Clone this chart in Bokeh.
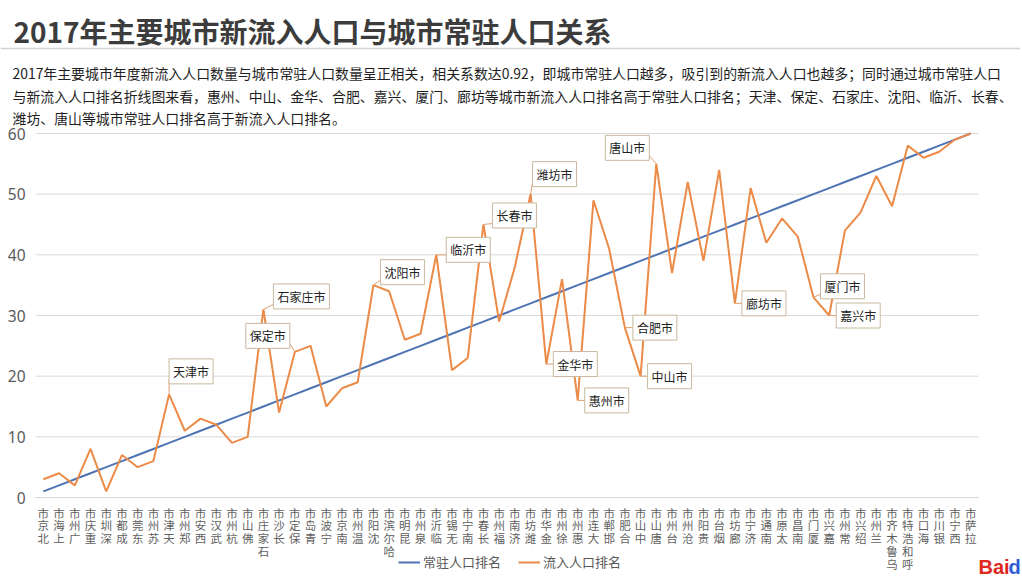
from bokeh.plotting import figure
from bokeh.models import Range1d, FixedTicker, Label, Legend, LegendItem
from bokeh.core.properties import value
from bokeh.embed import file_html
from bokeh.resources import INLINE

# ---------------- data ----------------
title_text = "2017年主要城市新流入人口与城市常驻人口关系"
para_lines = [
    "2017年主要城市年度新流入人口数量与城市常驻人口数量呈正相关，相关系数达0.92，即城市常驻人口越多，吸引到的新流入人口也越多；同时通过城市常驻人口",
    "与新流入人口排名折线图来看，惠州、中山、金华、合肥、嘉兴、厦门、廊坊等城市新流入人口排名高于常驻人口排名；天津、保定、石家庄、沈阳、临沂、长春、",
    "潍坊、唐山等城市常驻人口排名高于新流入人口排名。",
]
cities = ["北京市", "上海市", "广州市", "重庆市", "深圳市", "成都市", "东莞市", "苏州市", "天津市", "郑州市",
          "西安市", "武汉市", "杭州市", "佛山市", "石家庄市", "长沙市", "保定市", "青岛市", "宁波市", "南京市",
          "温州市", "沈阳市", "哈尔滨市", "昆明市", "泉州市", "临沂市", "无锡市", "南宁市", "长春市", "福州市",
          "济南市", "潍坊市", "金华市", "徐州市", "惠州市", "大连市", "邯郸市", "合肥市", "中山市", "唐山市",
          "台州市", "沧州市", "贵阳市", "烟台市", "廊坊市", "济宁市", "南通市", "太原市", "南昌市", "厦门市",
          "嘉兴市", "常州市", "绍兴市", "兰州市", "乌鲁木齐市", "呼和浩特市", "海口市", "银川市", "西宁市", "拉萨市"]
resident_rank = [1, 2, 3, 4, 5, 6, 7, 8, 9, 10, 11, 12, 13, 14, 15, 16, 17, 18, 19, 20,
                 21, 22, 23, 24, 25, 26, 27, 28, 29, 30, 31, 32, 33, 34, 35, 36, 37, 38, 39, 40,
                 41, 42, 43, 44, 45, 46, 47, 48, 49, 50, 51, 52, 53, 54, 55, 56, 57, 58, 59, 60]
inflow_rank = [3, 4, 2, 8, 1, 7, 5, 6, 17, 11, 13, 12, 9, 10, 31, 14, 24, 25, 15, 18,
               19, 35, 34, 26, 27, 40, 21, 23, 45, 29, 38, 50, 22, 36, 16, 49, 41, 28, 20, 55,
               37, 52, 39, 54, 32, 51, 42, 46, 43, 33, 30, 44, 47, 53, 48, 58, 56, 57, 59, 60]
y_ticks = [0, 10, 20, 30, 40, 50, 60]
legend_labels = ["常驻人口排名", "流入人口排名"]
# callouts: city name, box offset (px right, px up), leader side
callouts = [("天津市", 0, 23, "L"), ("石家庄市", 10, 13, "L"), ("保定市", -49, 16, "R"),
            ("沈阳市", 7, 13, "L"), ("临沂市", 10, 5, "L"), ("长春市", 9, 9, "L"),
            ("潍坊市", 2, 20, "L"), ("唐山市", -51, 16, "R"), ("金华市", 7, 0, "L"),
            ("惠州市", 7, 0, "L"), ("合肥市", 8, 0, "L"), ("中山市", 7, 0, "L"),
            ("廊坊市", 7, 0, "L"), ("厦门市", 7, 11, "L"), ("嘉兴市", 7, 0, "L")]

CJK = "Noto Sans CJK SC"
BLUE = "#4E74B4"
ORANGE = "#EB8B47"

# ---------------- layout (page pixels) ----------------
ML = 0                 # page origin of the canvas
W, H = 1020, 578       # canvas
FL, FR = 35, 978       # x = 0.5 .. 60.5
FT, FB = 133, 497      # y = 60 .. 0
n = len(cities)
pxx = (FR - FL) / n
pxy = (FB - FT) / 60.0
x0 = 0.5 - (FL - ML) / pxx
x1 = n + 0.5 + (ML + W - FR) / pxx
y1 = 60 + (FT - ML) / pxy
y0 = -(ML + H - FB) / pxy


def X(px):
    return x0 + (px - ML) / pxx


def Y(py):
    return y1 - (py - ML) / pxy


p = figure(width=W, height=H, x_range=Range1d(x0, x1), y_range=Range1d(y0, y1),
           toolbar_location=None, output_backend="svg", min_border=0,
           min_border_left=0, min_border_right=0, min_border_top=0, min_border_bottom=0,
           outline_line_color=None)

# header
p.text(x=[X(13)], y=[Y(30)], text=[title_text], text_font=value(CJK), text_font_size=value("28px"),
       text_font_style="bold", text_color="#3c3c3c", text_baseline="middle", text_align="left")
p.segment(x0=[X(0)], y0=[Y(48)], x1=[X(W)], y1=[Y(48)], line_color="#d4d4d4", line_width=1.5)
p.text(x=[X(12)] * 3, y=[Y(72), Y(95), Y(117)], text=para_lines, text_font=value(CJK),
       text_font_size=value("13.9px"), text_color="#1e1e1e", text_baseline="middle", text_align="left")

# grid lines (horizontal, only across the plotting band)
xs = list(range(1, n + 1))
p.xgrid.grid_line_color = None
p.ygrid.grid_line_color = None
p.segment(x0=[0.5] * len(y_ticks), y0=y_ticks, x1=[n + 0.5] * len(y_ticks), y1=y_ticks,
          line_color="#d9d9d9", line_width=1)

# axes
p.yaxis.fixed_location = 0.5
p.yaxis.bounds = (0, 60)
p.yaxis.ticker = FixedTicker(ticks=y_ticks)
p.yaxis.axis_line_color = None
p.yaxis.major_tick_line_color = None
p.yaxis.minor_tick_line_color = None
p.yaxis.major_label_standoff = 4
p.yaxis.major_label_text_font = "Noto Sans"
p.yaxis.major_label_text_font_size = "15.5px"
p.yaxis.major_label_text_color = "#595959"

p.xaxis.fixed_location = 0
p.xaxis.bounds = (0.5, n + 0.5)
p.xaxis.ticker = FixedTicker(ticks=xs)
p.xaxis.major_label_overrides = {i: "\n".join(reversed(c)) for i, c in zip(xs, cities)}
p.xaxis.axis_line_color = "#d9d9d9"
p.xaxis.major_tick_line_color = None
p.xaxis.minor_tick_line_color = None
p.xaxis.major_label_standoff = 1
p.xaxis.major_label_text_font = CJK
p.xaxis.major_label_text_font_size = "11.5px"
p.xaxis.major_label_text_line_height = 0.81
p.xaxis.major_label_text_color = "#5f5f5f"

r_blue = p.line(xs, resident_rank, line_color=BLUE, line_width=2)
r_orange = p.line(xs, inflow_rank, line_color=ORANGE, line_width=2)

# callouts
idx = {c: i for i, c in enumerate(cities)}
lx0, ly0, lx1, ly1 = [], [], [], []
for name, dx, dy, side in callouts:
    i = idx[name]
    x, y = xs[i], inflow_rank[i]
    bw = 12 * len(name) + 8
    p.add_layout(Label(x=x, y=y, x_offset=dx, y_offset=dy, text=name, text_font=CJK,
                       text_font_size="12px", text_color="#222222", text_baseline="middle",
                       text_align="left", background_fill_color="white",
                       border_line_color="#c8b89e", border_line_width=1, padding=4))
    ex = dx if side == "L" else dx + bw
    ey = dy - 8 if dy > 8 else 0
    lx0.append(x); ly0.append(y)
    lx1.append(x + ex / pxx); ly1.append(y + ey / pxy)
p.segment(x0=lx0, y0=ly0, x1=lx1, y1=ly1, line_color="#E2A06E", line_width=1)

legend = Legend(items=[LegendItem(label=legend_labels[0], renderers=[r_blue]),
                       LegendItem(label=legend_labels[1], renderers=[r_orange])],
                orientation="horizontal", location=(398 - ML, ML + H - 571), glyph_width=22,
                glyph_height=12, label_standoff=3, spacing=17, padding=0, margin=0,
                background_fill_alpha=0, border_line_color=None, label_text_font=CJK,
                label_text_font_size="13px", label_text_color="#595959", label_height=14)
p.add_layout(legend)

p.text(x=[X(978)], y=[Y(566)], text=["Bai"], text_font=value("Liberation Sans"),
       text_font_size=value("20px"), text_font_style="bold", text_color="#DE2A1F",
       text_baseline="middle", text_align="left")
p.text(x=[X(1008)], y=[Y(566)], text=["d"], text_font=value("Liberation Sans"),
       text_font_size=value("20px"), text_font_style="bold", text_color="#2D5BD3",
       text_baseline="middle", text_align="left")

open("out.html", "w").write(file_html(p, INLINE))
